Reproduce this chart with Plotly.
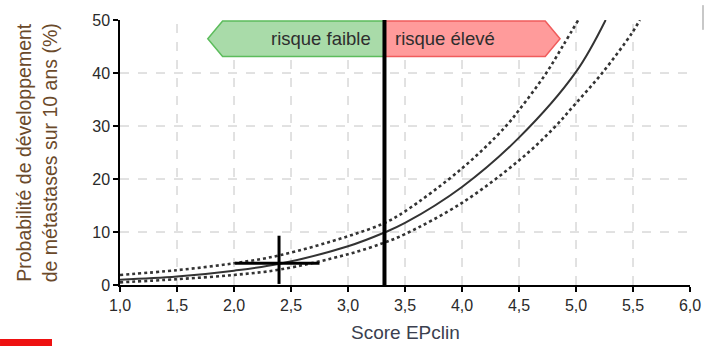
import plotly.graph_objects as go

# ---- data ----
SCORE_MID = [1.0, 1.5, 2.0, 2.4, 3.0, 3.32, 3.5, 4.0, 4.5, 5.0, 5.26]
PROB_MID = [1.0, 1.6, 2.7, 4.0, 7.3, 9.9, 11.7, 18.5, 27.8, 40.2, 50.0]

SCORE_UP = [1.0, 1.5, 2.0, 2.4, 3.0, 3.32, 3.5, 4.0, 4.37, 4.5, 4.73, 4.89, 5.02]
PROB_UP = [1.9, 2.8, 4.1, 5.6, 9.2, 11.7, 13.9, 22.0, 29.6, 33.0, 39.7, 45.3, 50.0]

SCORE_LOW = [1.0, 1.5, 2.0, 2.4, 3.0, 3.32, 3.5, 4.0, 4.5, 4.8, 5.0, 5.23, 5.49, 5.56]
PROB_LOW = [0.5, 1.1, 1.9, 2.9, 5.8, 8.0, 9.6, 15.5, 23.5, 29.5, 34.3, 40.0, 47.5, 50.0]

# patient marker (cross): centre and extents
PATIENT_SCORE = [2.395]
PATIENT_PROB = [4.1]
PATIENT_SCORE_PLUS = [0.355]
PATIENT_SCORE_MINUS = [0.385]
PATIENT_PROB_PLUS = [5.2]
PATIENT_PROB_MINUS = [3.9]

THRESHOLD = 3.32

X_TICKS = [1.0, 1.5, 2.0, 2.5, 3.0, 3.5, 4.0, 4.5, 5.0, 5.5, 6.0]
X_TICK_LABELS = ["1,0", "1,5", "2,0", "2,5", "3,0", "3,5", "4,0", "4,5", "5,0", "5,5", "6,0"]
Y_TICKS = [0, 10, 20, 30, 40, 50]
Y_TICK_LABELS = ["0", "10", "20", "30", "40", "50"]
X_GRID = [1.5, 2.0, 2.5, 3.0, 3.5, 4.0, 4.5, 5.0, 5.5]
Y_GRID = [10, 20, 30, 40]

LABEL_LOW = "risque faible"
LABEL_HIGH = "risque élevé"
X_TITLE = "Score EPclin"
Y_TITLE = "Probabilité de développement<br>de métastases sur 10 ans (%)"

FONT = "Liberation Sans, Arial, sans-serif"

fig = go.Figure()

fig.add_trace(go.Scatter(x=SCORE_UP, y=PROB_UP, mode="lines", line=dict(color="#333333", width=2.6, dash="dot", shape="spline"), hoverinfo="skip"))
fig.add_trace(go.Scatter(x=SCORE_LOW, y=PROB_LOW, mode="lines", line=dict(color="#333333", width=2.6, dash="dot", shape="spline"), hoverinfo="skip"))
fig.add_trace(go.Scatter(x=SCORE_MID, y=PROB_MID, mode="lines", line=dict(color="#333333", width=2, shape="spline"), hoverinfo="skip"))

fig.add_trace(go.Scatter(
    x=PATIENT_SCORE, y=PATIENT_PROB, mode="markers",
    marker=dict(size=1, color="black", opacity=0),
    error_x=dict(type="data", symmetric=False, array=PATIENT_SCORE_PLUS, arrayminus=PATIENT_SCORE_MINUS, color="black", thickness=3, width=0),
    error_y=dict(type="data", symmetric=False, array=PATIENT_PROB_PLUS, arrayminus=PATIENT_PROB_MINUS, color="black", thickness=3, width=0),
    hoverinfo="skip",
))

shapes = []
for gx in X_GRID:
    shapes.append(dict(type="line", xref="x", yref="y", x0=gx, x1=gx, y0=0, y1=50, layer="below",
                       line=dict(color="#c4c4c4", width=1, dash="dash")))
for gy in Y_GRID:
    shapes.append(dict(type="line", xref="x", yref="y", x0=1, x1=6, y0=gy, y1=gy, layer="below",
                       line=dict(color="#c4c4c4", width=1, dash="dash")))

# arrows
A_TOP, A_BOT, A_MID = 49.8, 43.1, 46.45
shapes.append(dict(type="path", xref="x", yref="y",
                   path=f"M 1.90,{A_TOP} L {THRESHOLD},{A_TOP} L {THRESHOLD},{A_BOT} L 1.90,{A_BOT} L 1.77,{A_MID} Z",
                   fillcolor="#a9dba9", line=dict(color="#5cbc5c", width=1.5), layer="above"))
shapes.append(dict(type="path", xref="x", yref="y",
                   path=f"M {THRESHOLD},{A_TOP} L 4.73,{A_TOP} L 4.86,{A_MID} L 4.73,{A_BOT} L {THRESHOLD},{A_BOT} Z",
                   fillcolor="#ff9b9b", line=dict(color="#f05c5c", width=1.5), layer="above"))

# threshold line
shapes.append(dict(type="line", xref="x", yref="paper", x0=THRESHOLD, x1=THRESHOLD, y0=0, y1=1.0,
                   line=dict(color="black", width=4), layer="above"))

# decorations around the chart
shapes.append(dict(type="rect", xref="paper", yref="paper", x0=-0.2105, x1=-0.1193, y0=-0.23, y1=-0.204,
                   fillcolor="#ee1111", line=dict(width=0)))
shapes.append(dict(type="line", xref="paper", yref="paper", x0=1.0228, x1=1.0228, y0=0.963, y1=1.056,
                   line=dict(color="#c8c8c8", width=2)))

annotations = [
    dict(x=THRESHOLD, y=A_MID, xref="x", yref="y", text=LABEL_LOW, showarrow=False, xanchor="right", xshift=-11,
         font=dict(family=FONT, size=18.5, color="#2e2e2e")),
    dict(x=THRESHOLD, y=A_MID, xref="x", yref="y", text=LABEL_HIGH, showarrow=False, xanchor="left", xshift=9,
         font=dict(family=FONT, size=18.5, color="#2e2e2e")),
    dict(x=-0.146, y=0.5, xref="paper", yref="paper", text=Y_TITLE, showarrow=False, textangle=-90,
         xanchor="center", yanchor="middle", font=dict(family=FONT, size=19.5, color="#6b4a2b")),
    dict(x=0.5, y=-0.178, xref="paper", yref="paper", text=X_TITLE, showarrow=False,
         xanchor="center", yanchor="middle", font=dict(family=FONT, size=19, color="#3b3f4f")),
]

fig.update_layout(
    width=715, height=347,
    margin=dict(l=120, r=25, t=14, b=62),
    paper_bgcolor="white", plot_bgcolor="white",
    showlegend=False,
    shapes=shapes, annotations=annotations,
    font=dict(family=FONT, size=16, color="#2a2a2a"),
    xaxis=dict(range=[1, 6], tickvals=X_TICKS, ticktext=X_TICK_LABELS, showgrid=False, zeroline=False,
               showline=True, linecolor="black", linewidth=1.5, ticks="outside", ticklen=5, tickwidth=1.5,
               tickcolor="black", tickfont=dict(family=FONT, size=16, color="#2a2a2a")),
    yaxis=dict(range=[0, 50], tickvals=Y_TICKS, ticktext=Y_TICK_LABELS, showgrid=False, zeroline=False,
               showline=True, linecolor="black", linewidth=1.5, ticks="outside", ticklen=5, tickwidth=1.5,
               tickcolor="black", tickfont=dict(family=FONT, size=16, color="#2a2a2a")),
)

fig.write_html("out.html")
